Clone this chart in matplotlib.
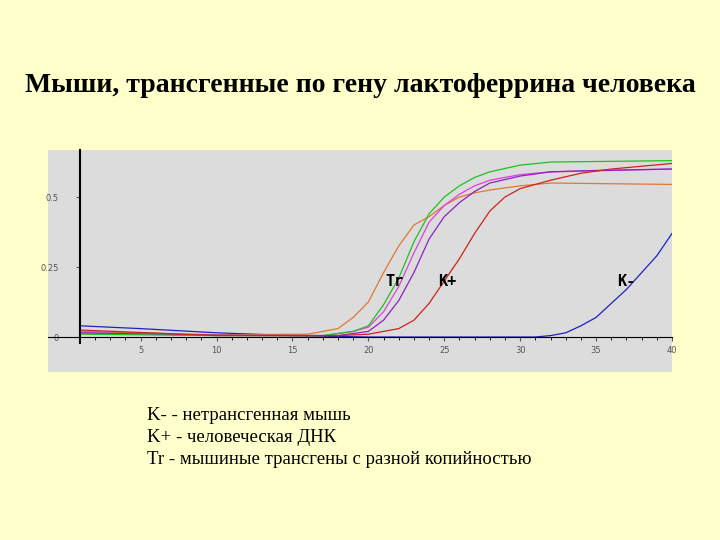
import matplotlib
matplotlib.use('Agg')
import matplotlib.pyplot as plt
import numpy as np

# cycle, fluorescence
green_x = [1, 10, 17, 19, 20, 21, 22, 23, 24, 25, 26, 27, 28, 30, 32, 40]
green_y = [0.01, 0.005, 0.005, 0.02, 0.04, 0.115, 0.21, 0.34, 0.44, 0.5, 0.54, 0.57, 0.59, 0.614, 0.625, 0.63]
orange_x = [1, 10, 16, 18, 19, 20, 21, 22, 23, 24, 25, 26, 27, 28, 30, 32, 40]
orange_y = [0.02, 0.008, 0.01, 0.03, 0.07, 0.125, 0.23, 0.325, 0.4, 0.43, 0.47, 0.5, 0.515, 0.525, 0.54, 0.55, 0.545]
pink_x = [1, 10, 17, 19, 20, 21, 22, 23, 24, 25, 26, 27, 28, 30, 32, 40]
pink_y = [0.015, 0.006, 0.005, 0.02, 0.035, 0.09, 0.18, 0.3, 0.41, 0.47, 0.51, 0.54, 0.56, 0.58, 0.59, 0.6]
magenta_x = [1, 10, 18, 20, 21, 22, 23, 24, 25, 26, 27, 28, 30, 32, 35, 40]
magenta_y = [0.015, 0.006, 0.005, 0.02, 0.06, 0.13, 0.23, 0.35, 0.43, 0.48, 0.52, 0.55, 0.575, 0.59, 0.595, 0.6]
red_x = [1, 10, 18, 20, 22, 23, 24, 25, 26, 27, 28, 29, 30, 32, 34, 36, 38, 40]
red_y = [0.025, 0.005, 0.005, 0.01, 0.03, 0.06, 0.12, 0.2, 0.28, 0.37, 0.45, 0.5, 0.53, 0.56, 0.585, 0.6, 0.61, 0.62]
blue_x = [1, 5, 10, 15, 20, 31, 32, 33, 34, 35, 36, 37, 38, 39, 40]
blue_y = [0.04, 0.03, 0.015, 0.005, 0.0, 0.0, 0.005, 0.015, 0.04, 0.07, 0.12, 0.17, 0.23, 0.29, 0.37]

legend_lines = ['K- - нетрансгенная мышь',
                'K+ - человеческая ДНК',
                'Tr - мышиные трансгены с разной копийностью']

fig = plt.figure(figsize=(7.2, 5.4), dpi=100)
fig.patch.set_facecolor('#ffffcc')
fig.text(0.5, 0.842, 'Мыши, трансгенные по гену лактоферрина человека',
         ha='center', va='center', fontsize=20, fontweight='bold', family='Liberation Serif')

ax = fig.add_axes([48/720, 168/540, 624/720, 222/540])
ax.set_facecolor('#dcdcdc')
for xs, ys, c in [(blue_x, blue_y, '#2020c0'), (orange_x, orange_y, '#e07830'),
                  (pink_x, pink_y, '#e040e0'), (magenta_x, magenta_y, '#9020c0'),
                  (green_x, green_y, '#20c020'), (red_x, red_y, '#d02020')]:
    ax.plot(xs, ys, color=c, lw=0.9)

ax.set_xlim(-1.1, 40)
ax.set_ylim(-0.125, 0.668)
for s in ['top', 'right']:
    ax.spines[s].set_visible(False)
ax.spines['left'].set_position(('data', 1))
ax.spines['bottom'].set_position(('data', 0))
ax.spines['left'].set_linewidth(1.5)
ax.spines['left'].set_bounds(-0.02, 0.668)
ax.set_xticks(range(5, 41, 5))
ax.set_xticks(range(1, 41), minor=True)
ax.set_yticks([0, 0.25, 0.5])
ax.set_yticklabels(['0', '0.25', '0.5'])
ax.tick_params(labelsize=6, colors='#555555', length=3)
ax.tick_params(which='minor', length=2)
ax.tick_params(axis='y', pad=12)

for x, y, t in [(21.1, 0.2, 'Tr'), (24.6, 0.2, 'K+'), (36.4, 0.2, 'K-')]:
    ax.text(x, y, t, fontsize=11, fontweight='bold', family='DejaVu Sans Mono', va='center')

for i, t in enumerate(legend_lines):
    fig.text(147/720, 1 - (415 + 22.5 * i)/540, t, fontsize=13.5,
             family='Liberation Serif', va='center')

fig.savefig('out.png', facecolor=fig.get_facecolor())
